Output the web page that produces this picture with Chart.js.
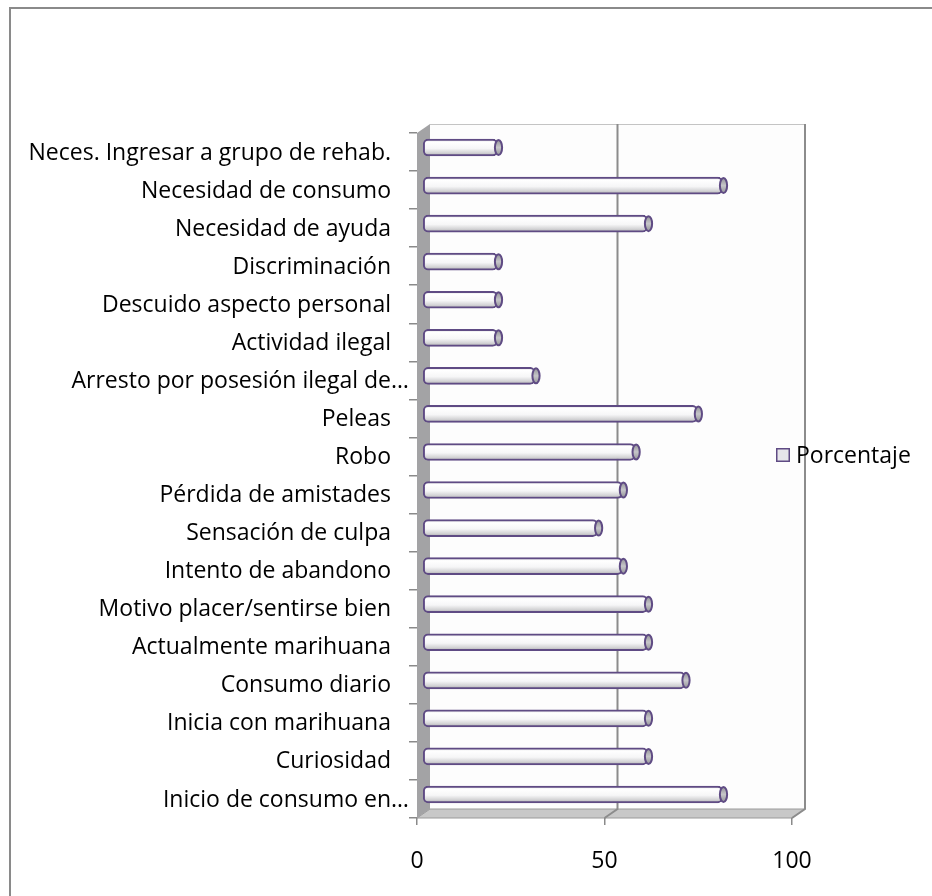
<!DOCTYPE html>
<html>
<head>
<meta charset="utf-8">
<script src="https://cdn.jsdelivr.net/npm/chart.js@4/dist/chart.umd.min.js"></script>
<style>
  html, body { margin: 0; padding: 0; background: #fff; }
  #wrap { width: 932px; height: 896px; position: relative; }
  canvas { display: block; }
</style>
</head>
<body>
<div id="wrap"><canvas id="chart" width="932" height="896"></canvas></div>
<script>
// Categories, listed from top to bottom as they appear on the axis
const categories = [
  "Neces. Ingresar a grupo de rehab.",
  "Necesidad de consumo",
  "Necesidad de ayuda",
  "Discriminación",
  "Descuido aspecto personal",
  "Actividad ilegal",
  "Arresto por posesión ilegal de…",
  "Peleas",
  "Robo",
  "Pérdida de amistades",
  "Sensación de culpa",
  "Intento de abandono",
  "Motivo placer/sentirse bien",
  "Actualmente marihuana",
  "Consumo diario",
  "Inicia con marihuana",
  "Curiosidad",
  "Inicio de consumo en…"
];

// Percentage for each category (same order)
const porcentaje = [20, 80, 60, 20, 20, 20, 30, 73.3, 56.7, 53.3, 46.7, 53.3, 60, 60, 70, 60, 60, 80];

const seriesLabel = "Porcentaje";
const xTicks = [0, 50, 100];

// 3D depth of the plot box: back plane offset from the front plane
const DEPTH = { dx: 13, dy: -9 };
const FONT = { family: "'Open Sans', 'Noto Sans', sans-serif", size: 23 };
const OUTLINE = "#5f4b84";

function bodyGradient(ctx, yc, h) {
  const g = ctx.createLinearGradient(0, yc - h / 2, 0, yc + h / 2);
  g.addColorStop(0, "#d6d6d8");
  g.addColorStop(0.18, "#ffffff");
  g.addColorStop(0.55, "#f6f6f7");
  g.addColorStop(0.82, "#d2d2d4");
  g.addColorStop(1, "#a9a9ab");
  return g;
}

// Walls, floor and back gridlines of the 3D plot box
const boxPlugin = {
  id: "box3d",
  beforeDraw(chart) {
    const { ctx, chartArea: a, scales: { x } } = chart;
    ctx.save();
    ctx.fillStyle = "#ffffff";
    ctx.fillRect(0, 0, chart.width, chart.height);

    // outer frame
    ctx.strokeStyle = "#8a8a8a";
    ctx.lineWidth = 2;
    ctx.strokeRect(10, 8, chart.width + 20, chart.height + 20);

    const f0 = x.getPixelForValue(xTicks[0]);
    const f1 = x.getPixelForValue(xTicks[xTicks.length - 1]);
    const b0 = f0 + DEPTH.dx, b1 = f1 + DEPTH.dx;
    const topB = a.top + DEPTH.dy, botB = a.bottom + DEPTH.dy;

    // back wall
    ctx.fillStyle = "#fdfdfd";
    ctx.fillRect(b0, topB, b1 - b0, botB - topB);
    ctx.strokeStyle = "#c4c4c4";
    ctx.lineWidth = 1;
    ctx.beginPath();
    ctx.moveTo(b0, topB + 0.5);
    ctx.lineTo(b1, topB + 0.5);
    ctx.stroke();

    // floor
    ctx.fillStyle = "#c8c8c8";
    ctx.beginPath();
    ctx.moveTo(f0, a.bottom);
    ctx.lineTo(b0, botB);
    ctx.lineTo(b1, botB);
    ctx.lineTo(f1, a.bottom);
    ctx.closePath();
    ctx.fill();
    ctx.strokeStyle = "#9a9a9a";
    ctx.lineWidth = 1;
    ctx.stroke();

    // left wall
    ctx.fillStyle = "#a3a3a5";
    ctx.beginPath();
    ctx.moveTo(f0, a.top);
    ctx.lineTo(b0, topB);
    ctx.lineTo(b0, botB);
    ctx.lineTo(f0, a.bottom);
    ctx.closePath();
    ctx.fill();

    // vertical gridlines on the back wall, continued across the floor
    ctx.strokeStyle = "#8c8c8c";
    ctx.lineWidth = 2;
    x.ticks.forEach(t => {
      if (t.value === xTicks[0]) return;
      const fx = x.getPixelForValue(t.value);
      const bx = fx + DEPTH.dx;
      ctx.beginPath();
      ctx.moveTo(bx, topB);
      ctx.lineTo(bx, botB);
      ctx.lineTo(fx, a.bottom);
      ctx.stroke();
    });
    ctx.restore();
  },
  // bars sit halfway into the box depth
  beforeDatasetsDraw(chart) {
    chart.ctx.save();
    chart.ctx.translate(5.5, DEPTH.dy / 2);
  },
  afterDatasetsDraw(chart) {
    const { ctx } = chart;
    chart.getDatasetMeta(0).data.forEach(bar => {
      const h = bar.height;
      ctx.save();
      const g = ctx.createLinearGradient(0, bar.y - h / 2, 0, bar.y + h / 2);
      g.addColorStop(0, "#8e8e92");
      g.addColorStop(0.5, "#c6c6c9");
      g.addColorStop(1, "#8e8e92");
      ctx.fillStyle = g;
      ctx.strokeStyle = OUTLINE;
      ctx.lineWidth = 2;
      ctx.beginPath();
      ctx.ellipse(bar.x + 1, bar.y, 3.6, h / 2 - 1, 0, 0, Math.PI * 2);
      ctx.fill();
      ctx.stroke();
      ctx.restore();
    });
    ctx.restore();
  },
  afterDraw(chart) {
    const { ctx, chartArea: a, scales: { y } } = chart;
    ctx.save();
    ctx.font = `${FONT.size}px ${FONT.family}`;
    ctx.fillStyle = "#000";
    ctx.textBaseline = "middle";
    const right = a.left - 26;
    chart.data.labels.forEach((lab, i) => {
      const yy = y.getPixelForValue(i) + 1;
      if (lab.endsWith("…")) {
        ctx.textAlign = "right";
        ctx.fillText(lab.slice(0, -1), right, yy);
        ctx.textAlign = "left";
        ctx.fillText("…", right, yy);
      } else {
        ctx.textAlign = "right";
        ctx.fillText(lab, right, yy);
      }
    });

    // legend
    const ds = chart.data.datasets[0];
    const lx = 776, ly = 448;
    ctx.fillStyle = "#e6e5ea";
    ctx.fillRect(lx, ly, 14, 14);
    ctx.strokeStyle = OUTLINE;
    ctx.lineWidth = 1.5;
    ctx.strokeRect(lx + 0.75, ly + 0.75, 12.5, 12.5);
    ctx.fillStyle = "#000";
    ctx.textAlign = "left";
    ctx.fillText(ds.label, lx + 20, ly + 8);
    ctx.restore();
  }
};

new Chart(document.getElementById("chart"), {
  type: "bar",
  data: {
    labels: categories,
    datasets: [{
      label: seriesLabel,
      data: porcentaje,
      backgroundColor: (c) => {
        const chart = c.chart;
        const y = chart.scales && chart.scales.y;
        if (!y || c.dataIndex === undefined) return "#f2f2f2";
        const yc = y.getPixelForValue(c.dataIndex);
        if (!Number.isFinite(yc)) return "#f2f2f2";
        return bodyGradient(chart.ctx, yc, 17);
      },
      borderColor: OUTLINE,
      borderWidth: 2,
      borderSkipped: false,
      borderRadius: 5,
      barThickness: 17
    }]
  },
  plugins: [boxPlugin],
  options: {
    indexAxis: "y",
    responsive: false,
    animation: false,
    events: [],
    layout: { padding: { left: 0, top: 133, right: 140, bottom: 0 } },
    plugins: { legend: { display: false }, tooltip: { enabled: false } },
    scales: {
      x: {
        min: 0, max: 100,
        afterBuildTicks: (s) => { s.ticks = xTicks.map(v => ({ value: v })); },
        afterFit: (s) => { s.height = 78; },
        grid: { drawOnChartArea: false, drawTicks: true, tickLength: 7, color: "#8a8a8a", lineWidth: 1.5 },
        border: { display: false },
        ticks: { color: "#000", font: FONT, padding: 23, maxRotation: 0 }
      },
      y: {
        afterFit: (s) => { s.width = 417; },
        grid: { drawOnChartArea: false, drawTicks: true, tickLength: 8, color: "#8a8a8a", lineWidth: 1.5, offset: true },
        border: { display: false },
        ticks: { display: false }
      }
    }
  }
});
</script>
</body>
</html>
